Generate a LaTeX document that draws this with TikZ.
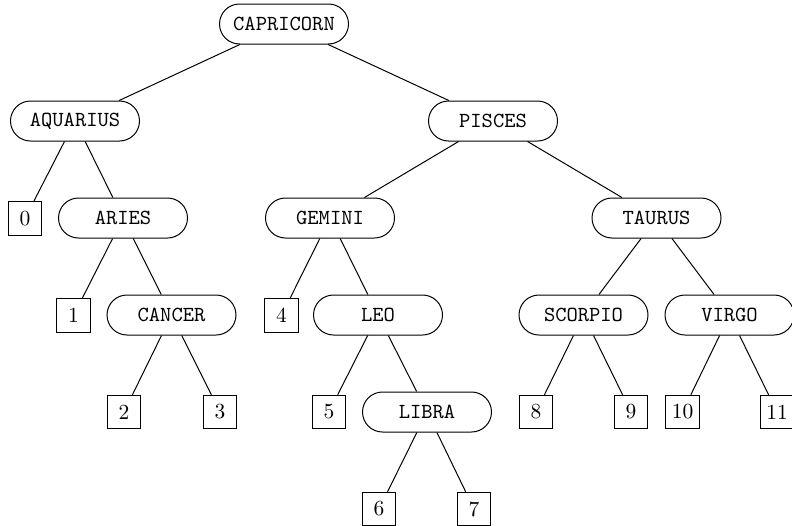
\documentclass[tikz,border=0pt]{standalone}
\usepackage{fontspec}
\setmainfont{lmroman10-regular.otf}
\setmonofont{lmmono10-regular.otf}
\usetikzlibrary{shapes.misc}
\begin{document}
\begin{tikzpicture}[x=1pt,y=-1pt,
  inner/.style={draw,line width=1pt,rounded rectangle,minimum width=129pt,minimum height=40pt,inner sep=0pt,font=\fontsize{21.5}{24}\selectfont\ttfamily},
  leaf/.style={draw,line width=1pt,rectangle,minimum size=33.5pt,inner sep=0pt,font=\fontsize{21.5}{24}\selectfont},
  edge/.style={line width=1pt}]
\useasboundingbox (0,0) rectangle (792,525);
\node[inner] (cap) at (284,24) {CAPRICORN};
\node[inner] (aqu) at (75,121) {AQUARIUS};
\node[inner] (pis) at (493,121) {PISCES};
\node[leaf] (l0) at (25,218.5) {0};
\node[inner] (ari) at (123,218) {ARIES};
\node[inner] (gem) at (330,218) {GEMINI};
\node[inner] (tau) at (656.5,218) {TAURUS};
\node[leaf] (l1) at (73.5,315.5) {1};
\node[inner] (can) at (171.5,315) {CANCER};
\node[leaf] (l4) at (281.5,315.5) {4};
\node[inner] (leo) at (378,315) {LEO};
\node[inner] (sco) at (583.5,315) {SCORPIO};
\node[inner] (vir) at (729.5,315) {VIRGO};
\node[leaf] (l2) at (124,412) {2};
\node[leaf] (l3) at (220,412) {3};
\node[leaf] (l5) at (329,412) {5};
\node[inner] (lib) at (427,412) {LIBRA};
\node[leaf] (l8) at (536,412) {8};
\node[leaf] (l9) at (631,412) {9};
\node[leaf] (l10) at (682.5,412) {10};
\node[leaf] (l11) at (777,412) {11};
\node[leaf] (l6) at (379,509) {6};
\node[leaf] (l7) at (474,509) {7};
\foreach \p/\c in {cap/aqu,cap/pis,aqu/l0,aqu/ari,ari/l1,ari/can,can/l2,can/l3,
  pis/gem,pis/tau,gem/l4,gem/leo,leo/l5,leo/lib,lib/l6,lib/l7,
  tau/sco,tau/vir,sco/l8,sco/l9,vir/l10,vir/l11}
  \draw[edge] (\p) -- (\c);
\end{tikzpicture}
\end{document}
